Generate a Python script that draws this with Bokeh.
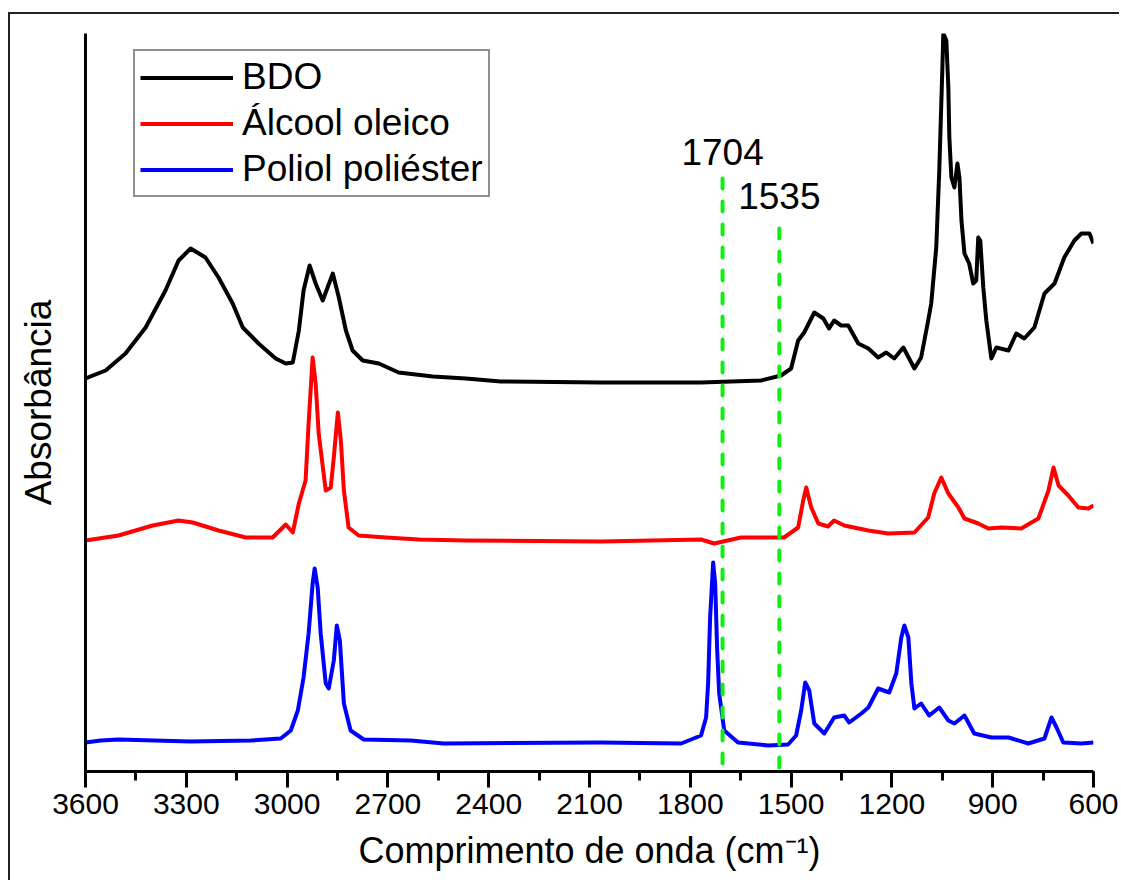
from bokeh.plotting import figure
from bokeh.models import Range1d, SingleIntervalTicker, FixedTicker, Legend, LegendItem
from bokeh.embed import file_html
from bokeh.resources import INLINE
from bokeh.core.properties import value

# FTIR spectra (wavenumber in cm-1, absorbance in arbitrary units, stacked)
bdo_wn = [3600, 3540, 3481, 3421, 3362, 3323, 3287, 3243, 3204, 3162, 3132, 3085,
          3034, 3004, 2983, 2965, 2951, 2933, 2915, 2894, 2864, 2846, 2825, 2805,
          2775, 2727, 2668, 2566, 2468, 2364, 2066, 1768, 1589, 1530, 1500, 1479,
          1461, 1431, 1404, 1387, 1372, 1351, 1330, 1300, 1270, 1241, 1217, 1193,
          1166, 1133, 1113, 1092, 1083, 1068, 1059, 1050, 1047, 1038, 1032, 1029,
          1023, 1014, 1005, 999, 993, 984, 970, 958, 949, 943, 937, 928, 919, 904,
          889, 853, 830, 806, 776, 746, 716, 687, 657, 636, 612, 600]
bdo_abs = [3.93, 4.01, 4.18, 4.44, 4.81, 5.11, 5.23, 5.14, 4.94, 4.68, 4.44, 4.28,
           4.13, 4.08, 4.09, 4.41, 4.81, 5.06, 4.88, 4.71, 4.98, 4.74, 4.41, 4.21,
           4.11, 4.08, 3.99, 3.95, 3.93, 3.90, 3.89, 3.89, 3.91, 3.96, 4.03, 4.31,
           4.39, 4.59, 4.53, 4.43, 4.51, 4.46, 4.46, 4.28, 4.23, 4.14, 4.19, 4.13,
           4.24, 4.03, 4.14, 4.51, 4.68, 5.24, 6.01, 7.01, 7.38, 7.31, 6.84, 6.34,
           5.94, 5.84, 6.08, 5.94, 5.51, 5.18, 5.08, 4.88, 4.91, 5.34, 5.31, 4.84,
           4.51, 4.13, 4.24, 4.21, 4.38, 4.33, 4.44, 4.78, 4.88, 5.14, 5.31, 5.38,
           5.38, 5.28]

oleyl_wn = [3600, 3502, 3400, 3323, 3281, 3204, 3123, 3043, 3004, 2983, 2965, 2945,
            2936, 2924, 2915, 2906, 2885, 2870, 2861, 2849, 2840, 2831, 2817, 2787,
            2706, 2608, 2468, 2066, 1768, 1729, 1649, 1521, 1479, 1464, 1455, 1440,
            1419, 1390, 1372, 1342, 1270, 1211, 1133, 1092, 1074, 1053, 1032, 1002,
            984, 943, 913, 874, 815, 764, 734, 719, 704, 675, 645, 615, 600]
oleyl_abs = [2.31, 2.36, 2.46, 2.51, 2.49, 2.41, 2.34, 2.34, 2.47, 2.39, 2.68, 2.91,
             3.48, 4.14, 3.88, 3.38, 2.81, 2.84, 3.14, 3.59, 3.31, 2.81, 2.44, 2.36,
             2.34, 2.32, 2.31, 2.30, 2.32, 2.28, 2.34, 2.34, 2.44, 2.71, 2.84, 2.64,
             2.48, 2.45, 2.51, 2.46, 2.41, 2.38, 2.39, 2.54, 2.78, 2.94, 2.78, 2.64,
             2.53, 2.48, 2.43, 2.44, 2.43, 2.53, 2.81, 3.04, 2.86, 2.76, 2.64, 2.63,
             2.66]

polyol_wn = [3600, 3555, 3502, 3287, 3108, 3019, 2989, 2968, 2951, 2936, 2924, 2918,
             2909, 2900, 2885, 2876, 2861, 2852, 2843, 2831, 2811, 2772, 2632, 2534,
             2066, 1827, 1768, 1753, 1747, 1741, 1732, 1726, 1720, 1714, 1699, 1658,
             1568, 1509, 1485, 1470, 1458, 1446, 1431, 1401, 1372, 1342, 1327, 1291,
             1270, 1241, 1208, 1187, 1172, 1163, 1151, 1142, 1133, 1113, 1089, 1059,
             1032, 1014, 984, 955, 904, 853, 794, 746, 725, 710, 690, 636, 600]
polyol_abs = [0.29, 0.31, 0.32, 0.30, 0.31, 0.33, 0.41, 0.61, 0.94, 1.38, 1.88, 2.03,
              1.84, 1.38, 0.88, 0.83, 1.11, 1.46, 1.31, 0.68, 0.41, 0.32, 0.31, 0.28,
              0.29, 0.28, 0.36, 0.54, 0.88, 1.54, 2.09, 1.88, 1.21, 0.78, 0.41, 0.29,
              0.26, 0.27, 0.36, 0.61, 0.89, 0.81, 0.48, 0.38, 0.54, 0.56, 0.49, 0.58,
              0.64, 0.83, 0.79, 0.98, 1.34, 1.46, 1.34, 0.88, 0.63, 0.68, 0.56, 0.64,
              0.51, 0.48, 0.56, 0.38, 0.34, 0.34, 0.28, 0.33, 0.54, 0.44, 0.29, 0.28,
              0.29]

series_names = ["BDO", "Álcool oleico", "Poliol poliéster"]

# marked bands
band_wn = [1704, 1535]
band_labels = ["1704", "1535"]

# layout of the band markers (absorbance units)
band_tops = [5.93, 5.43]
band_label_y = [6.20, 5.76]

FONT = "Liberation Sans"

p = figure(width=1111, height=868,
           x_range=Range1d(3600, 600), y_range=Range1d(0, 7.38),
           output_backend="svg", toolbar_location=None,
           min_border_left=75, min_border_right=28,
           min_border_top=19, min_border_bottom=111)
p.margin = (12, 0, 0, 8)
p.styles = {"border-top": "2px solid #222", "border-left": "2px solid #222"}

p.xgrid.visible = False
p.ygrid.visible = False
p.outline_line_color = None
p.background_fill_color = "white"
p.border_fill_color = "white"

r_bdo = p.line(bdo_wn, bdo_abs, line_color="black", line_width=4, line_join="round")
r_ole = p.line(oleyl_wn, oleyl_abs, line_color="#ff0000", line_width=4, line_join="round")
r_pol = p.line(polyol_wn, polyol_abs, line_color="#0000ff", line_width=4, line_join="round")

p.segment(x0=band_wn, y0=band_tops, x1=band_wn, y1=[0, 0],
          line_color="#11ee11", line_width=4, line_dash="10 13", line_cap="round")
p.text(x=band_wn, y=band_label_y, text=band_labels,
       text_font=value(FONT), text_font_size="37px", text_color="black",
       text_align="center", text_baseline="alphabetic")

# x axis
xa = p.xaxis[0]
xa.ticker = SingleIntervalTicker(interval=300, num_minor_ticks=2)
xa.axis_label = "Comprimento de onda (cm\u207b\u00b9)"
xa.axis_label_text_font = FONT
xa.axis_label_text_font_size = "36px"
xa.axis_label_text_font_style = "normal"
xa.axis_label_text_color = "black"
xa.axis_label_standoff = 13
xa.major_label_text_font = FONT
xa.major_label_text_font_size = "30px"
xa.major_label_text_color = "black"
xa.major_label_standoff = 6
xa.axis_line_width = 3
xa.axis_line_color = "black"
xa.major_tick_line_width = 3
xa.minor_tick_line_width = 3
xa.major_tick_line_color = "black"
xa.minor_tick_line_color = "black"
xa.major_tick_in = 0
xa.major_tick_out = 16
xa.minor_tick_in = 0
xa.minor_tick_out = 9

# y axis (no ticks)
ya = p.yaxis[0]
ya.ticker = FixedTicker(ticks=[])
ya.axis_label = "Absorbância"
ya.axis_label_text_font = FONT
ya.axis_label_text_font_size = "37px"
ya.axis_label_text_font_style = "normal"
ya.axis_label_text_color = "black"
ya.axis_label_standoff = 27
ya.axis_line_width = 3
ya.axis_line_color = "black"
ya.major_tick_out = 0
ya.major_tick_in = 0
ya.minor_tick_out = 0
ya.minor_tick_in = 0
ya.major_label_text_font_size = "0px"

legend = Legend(items=[LegendItem(label=series_names[0], renderers=[r_bdo]),
                       LegendItem(label=series_names[1], renderers=[r_ole]),
                       LegendItem(label=series_names[2], renderers=[r_pol])],
                location=(48, 574))
legend.label_text_font = FONT
legend.label_text_font_size = "37px"
legend.label_text_color = "black"
legend.glyph_width = 93
legend.glyph_height = 41
legend.label_height = 41
legend.label_standoff = 9
legend.spacing = 4
legend.padding = 5
legend.margin = 0
legend.border_line_color = "#222222"
legend.border_line_width = 2
legend.background_fill_color = "white"
legend.background_fill_alpha = 1.0
p.add_layout(legend)

open("out.html", "w").write(file_html(p, INLINE))
